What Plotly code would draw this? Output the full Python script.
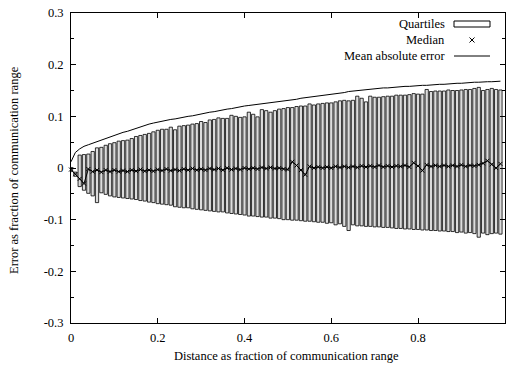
import plotly.graph_objects as go

# ---- data ----
distance = [round(i * 0.01, 2) for i in range(100)]

q3 = [0.001, -0.008, 0.025, 0.026, 0.027, 0.032, 0.039, 0.040, 0.044, 0.047,
      0.049, 0.052, 0.053, 0.054, 0.057, 0.061, 0.063, 0.065, 0.067, 0.070,
      0.073, 0.075, 0.075, 0.079, 0.074, 0.081, 0.082, 0.083, 0.085, 0.086,
      0.090, 0.088, 0.093, 0.094, 0.097, 0.096, 0.096, 0.102, 0.100, 0.098,
      0.099, 0.108, 0.104, 0.099, 0.113, 0.111, 0.108, 0.111, 0.114, 0.115,
      0.117, 0.117, 0.119, 0.120, 0.120, 0.124, 0.122, 0.124, 0.125, 0.126,
      0.126, 0.128, 0.130, 0.131, 0.130, 0.131, 0.139, 0.135, 0.128, 0.139,
      0.137, 0.137, 0.138, 0.139, 0.139, 0.141, 0.141, 0.141, 0.142, 0.144,
      0.143, 0.143, 0.152, 0.148, 0.149, 0.149, 0.149, 0.151, 0.150, 0.150,
      0.151, 0.152, 0.152, 0.154, 0.156, 0.150, 0.152, 0.154, 0.152, 0.151]

q1 = [-0.007, -0.016, -0.036, -0.043, -0.049, -0.054, -0.067, -0.048, -0.051, -0.054,
      -0.056, -0.057, -0.058, -0.059, -0.060, -0.061, -0.063, -0.064, -0.066, -0.067,
      -0.069, -0.070, -0.071, -0.072, -0.075, -0.076, -0.077, -0.077, -0.079, -0.080,
      -0.081, -0.082, -0.083, -0.084, -0.085, -0.085, -0.087, -0.088, -0.089, -0.090,
      -0.091, -0.093, -0.093, -0.094, -0.095, -0.095, -0.097, -0.097, -0.098, -0.100,
      -0.100, -0.101, -0.101, -0.102, -0.103, -0.103, -0.104, -0.105, -0.105, -0.107,
      -0.106, -0.110, -0.108, -0.113, -0.121, -0.110, -0.112, -0.112, -0.113, -0.113,
      -0.114, -0.114, -0.115, -0.115, -0.116, -0.117, -0.117, -0.118, -0.118, -0.119,
      -0.119, -0.120, -0.120, -0.121, -0.121, -0.122, -0.122, -0.123, -0.123, -0.125,
      -0.124, -0.126, -0.125, -0.127, -0.134, -0.126, -0.129, -0.127, -0.126, -0.128]

median = [-0.003, -0.012, -0.021, -0.030, -0.002, -0.007, -0.004, -0.008, -0.004, -0.007,
          -0.004, -0.007, -0.005, -0.007, -0.004, -0.006, -0.003, -0.006, -0.004, -0.006,
          -0.003, -0.005, -0.002, -0.005, -0.003, -0.005, -0.002, -0.004, -0.001, -0.004,
          -0.002, -0.004, -0.001, -0.003, -0.001, -0.004, 0.000, -0.003, -0.001, -0.003,
          0.000, -0.002, 0.000, -0.002, 0.001, -0.001, 0.001, -0.001, 0.000, -0.002,
          -0.003, 0.012, 0.005, -0.004, -0.013, 0.003, 0.000, 0.002, 0.000, 0.002,
          0.000, 0.003, 0.001, 0.003, 0.001, 0.003, 0.001, 0.004, 0.002, 0.004,
          0.002, 0.005, 0.002, 0.004, 0.002, 0.004, 0.003, 0.005, 0.002, 0.010,
          0.004, -0.005, 0.006, 0.003, 0.005, 0.003, 0.005, 0.003, 0.005, 0.003,
          0.006, 0.003, 0.005, 0.004, 0.006, 0.009, 0.014, 0.007, 0.000, 0.008]

mae = [0.012, 0.030, 0.037, 0.042, 0.045, 0.048, 0.051, 0.054, 0.058, 0.061,
       0.064, 0.066, 0.069, 0.071, 0.074, 0.076, 0.079, 0.082, 0.085, 0.087,
       0.089, 0.091, 0.092, 0.094, 0.095, 0.097, 0.098, 0.100, 0.101, 0.103,
       0.105, 0.106, 0.108, 0.109, 0.111, 0.112, 0.114, 0.115, 0.117, 0.119,
       0.120, 0.121, 0.122, 0.123, 0.124, 0.125, 0.127, 0.128, 0.129, 0.130,
       0.131, 0.132, 0.133, 0.135, 0.136, 0.137, 0.139, 0.140, 0.141, 0.142,
       0.143, 0.144, 0.145, 0.146, 0.148, 0.149, 0.150, 0.151, 0.152, 0.153,
       0.153, 0.154, 0.155, 0.155, 0.156, 0.157, 0.157, 0.158, 0.158, 0.159,
       0.159, 0.160, 0.160, 0.161, 0.161, 0.162, 0.162, 0.163, 0.163, 0.164,
       0.164, 0.165, 0.165, 0.166, 0.166, 0.167, 0.167, 0.167, 0.168, 0.168]

x_tickvals = [0, 0.2, 0.4, 0.6, 0.8, 1.0]
x_ticktext = ["0", "0.2", "0.4", "0.6", "0.8", "1"]
y_tickvals = [-0.3, -0.2, -0.1, 0, 0.1, 0.2, 0.3]
y_ticktext = ["-0.3", "-0.2", "-0.1", "0", "0.1", "0.2", "0.3"]

legend_labels = ["Quartiles", "Median", "Mean absolute error"]
x_title = "Distance as fraction of communication range"
y_title = "Error as fraction of communication range"

FONT = "Liberation Serif"
FS = 12.5

fig = go.Figure()

fig.add_trace(go.Bar(
    x=distance,
    y=[hi - lo for hi, lo in zip(q3, q1)],
    base=q1,
    width=0.0075,
    marker=dict(color="#dcdcdc", line=dict(color="black", width=0.8)),
    showlegend=False,
    hoverinfo="skip",
))

fig.add_trace(go.Scatter(
    x=distance, y=mae, mode="lines",
    line=dict(color="black", width=1),
    showlegend=False, hoverinfo="skip",
))

fig.add_trace(go.Scatter(
    x=distance, y=median, mode="lines+markers",
    line=dict(color="black", width=1),
    marker=dict(symbol="x-thin", size=4, line=dict(color="black", width=1)),
    cliponaxis=False,
    showlegend=False, hoverinfo="skip",
))

# plot area in pixels: x 71..505, y 13..323
L, R, T, B = 71, 505, 13, 323
def px(xp):
    return (xp - L) / (R - L)
def py(yp):
    return (B - yp) / (B - T)

annotations = []
shapes = []
rows_y = [24, 40, 56]
for lab, yy in zip(legend_labels, rows_y):
    annotations.append(dict(xref="paper", yref="paper", x=px(447), y=py(yy),
                            text=lab, showarrow=False, xanchor="right", yanchor="middle",
                            font=dict(family=FONT, size=FS, color="black")))
# Quartiles sample box
shapes.append(dict(type="rect", xref="paper", yref="paper",
                   x0=px(454), x1=px(490), y0=py(21), y1=py(27),
                   line=dict(color="black", width=1), fillcolor="white"))
# Median sample x
cx, cy, d = 472, 40, 2.5
shapes.append(dict(type="line", xref="paper", yref="paper",
                   x0=px(cx - d), x1=px(cx + d), y0=py(cy - d), y1=py(cy + d),
                   line=dict(color="black", width=1)))
shapes.append(dict(type="line", xref="paper", yref="paper",
                   x0=px(cx - d), x1=px(cx + d), y0=py(cy + d), y1=py(cy - d),
                   line=dict(color="black", width=1)))
# MAE sample line
shapes.append(dict(type="line", xref="paper", yref="paper",
                   x0=px(454), x1=px(490), y0=py(56), y1=py(56),
                   line=dict(color="black", width=1)))

annotations.append(dict(xref="paper", yref="paper", x=px(286), y=py(356),
                        text=x_title, showarrow=False, xanchor="center", yanchor="middle",
                        font=dict(family=FONT, size=FS, color="black")))
annotations.append(dict(xref="paper", yref="paper", x=px(14), y=py(170),
                        text=y_title, showarrow=False, textangle=-90,
                        xanchor="center", yanchor="middle",
                        font=dict(family=FONT, size=FS, color="black")))

fig.update_layout(
    width=506, height=365,
    margin=dict(l=L, r=506 - R, t=T, b=365 - B, autoexpand=False),
    paper_bgcolor="white", plot_bgcolor="white",
    font=dict(family=FONT, size=FS, color="black"),
    barmode="overlay",
    annotations=annotations,
    shapes=shapes,
    xaxis=dict(range=[0, 1.0005], tickvals=x_tickvals, ticktext=x_ticktext,
               ticks="inside", ticklen=5, tickcolor="black", tickwidth=1,
               showline=True, linecolor="black", linewidth=1, mirror="ticks",
               showgrid=False, zeroline=False, automargin=False,
               ticklabelstandoff=3,
               tickfont=dict(family=FONT, size=FS, color="black")),
    yaxis=dict(range=[-0.3, 0.3], tickvals=y_tickvals, ticktext=y_ticktext,
               ticks="inside", ticklen=5, tickcolor="black", tickwidth=1,
               showline=True, linecolor="black", linewidth=1, mirror="ticks",
               showgrid=False, zeroline=False, automargin=False,
               ticklabelstandoff=4,
               minor=dict(ticks="inside", ticklen=3, dtick=0.05, tickcolor="black",
                          showgrid=False),
               tickfont=dict(family=FONT, size=FS, color="black")),
)

fig.write_html(
    "out.html",
    config={"displayModeBar": False},
    post_script="document.body.style.margin='0';document.body.style.overflow='hidden';",
)
